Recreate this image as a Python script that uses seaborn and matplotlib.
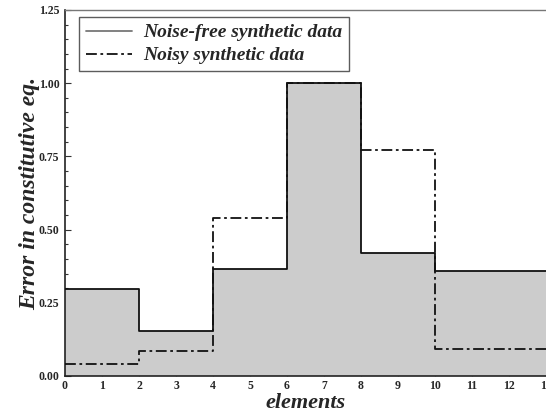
import matplotlib
matplotlib.use("Agg")
import matplotlib.pyplot as plt
import seaborn as sns
import pandas as pd
import numpy as np
from matplotlib.ticker import MultipleLocator

edges = [0, 2, 4, 6, 8, 10, 13]
noise_free = [0.297, 0.154, 0.364, 1.0, 0.42, 0.357]
noisy = [0.041, 0.085, 0.541, 1.0, 0.772, 0.091]
x_ticks = list(range(0, 14))
y_ticks = [0.00, 0.25, 0.50, 0.75, 1.00, 1.25]

sns.set_theme(style="white")
plt.rcParams['font.family'] = ['Liberation Serif', 'DejaVu Serif']

df = pd.DataFrame({
    "x": edges + edges,
    "y": noise_free + [noise_free[-1]] + noisy + [noisy[-1]],
    "series": ["Noise-free synthetic data"] * len(edges) + ["Noisy synthetic data"] * len(edges),
})

fig = plt.figure(figsize=(5.46, 4.12), dpi=100)
ax = fig.add_axes([65 / 546, 1 - 376 / 412, 1 - 65 / 546, (376 - 10) / 412])

nf = df[df.series == "Noise-free synthetic data"]
ax.fill_between(nf.x, nf.y, step="post", color="#cccccc", linewidth=0, zorder=1)

sns.lineplot(data=df, x="x", y="y", style="series", hue="series",
             palette={"Noise-free synthetic data": "#111111", "Noisy synthetic data": "#111111"},
             dashes={"Noise-free synthetic data": "", "Noisy synthetic data": (6, 2, 1.5, 2)},
             drawstyle="steps-post", linewidth=1.3, ax=ax, estimator=None, sort=False, zorder=3)

ax.set_xlim(0, 13)
ax.set_ylim(0, 1.25)
ax.set_xticks(x_ticks)
ax.set_xticklabels([str(t) for t in x_ticks], fontweight="bold", fontsize=8.5)
ax.set_yticks(y_ticks)
ax.set_yticklabels([f"{t:.2f}" for t in y_ticks], fontweight="bold", fontsize=8.5)
ax.yaxis.set_minor_locator(MultipleLocator(0.05))
ax.tick_params(axis="both", which="both", direction="in", left=True, bottom=True, pad=4)
ax.tick_params(axis="y", which="major", length=4, width=0.8, color="#333333")
ax.tick_params(axis="y", which="minor", length=2.5, width=0.8, color="#333333")
ax.tick_params(axis="x", which="major", length=3, width=0.8, color="#999999", pad=3)

for s in ["left", "bottom"]:
    ax.spines[s].set_color("#222222")
    ax.spines[s].set_linewidth(1.2)
ax.spines["top"].set_color("#777777")
ax.spines["top"].set_linewidth(1.0)
ax.spines["right"].set_visible(False)

ax.set_xlabel("elements", fontsize=16, fontweight="bold", fontstyle="italic", labelpad=0.5)
ax.set_ylabel("Error in constitutive eq.", fontsize=17, fontweight="bold", fontstyle="italic", labelpad=-1)

leg = ax.legend(loc="upper left", bbox_to_anchor=(0.029, 0.981), frameon=True, fancybox=False,
                prop={"weight": "bold", "style": "italic", "size": 14},
                handlelength=2.4, borderpad=0.35, labelspacing=0.28, handletextpad=0.55,
                borderaxespad=0)
leg.get_frame().set_edgecolor("#333333")
leg.get_frame().set_linewidth(1.0)
leg.get_lines()[0].set_color("#777777")
leg.get_lines()[0].set_linewidth(1.3)

fig.savefig("out.png", dpi=100)
